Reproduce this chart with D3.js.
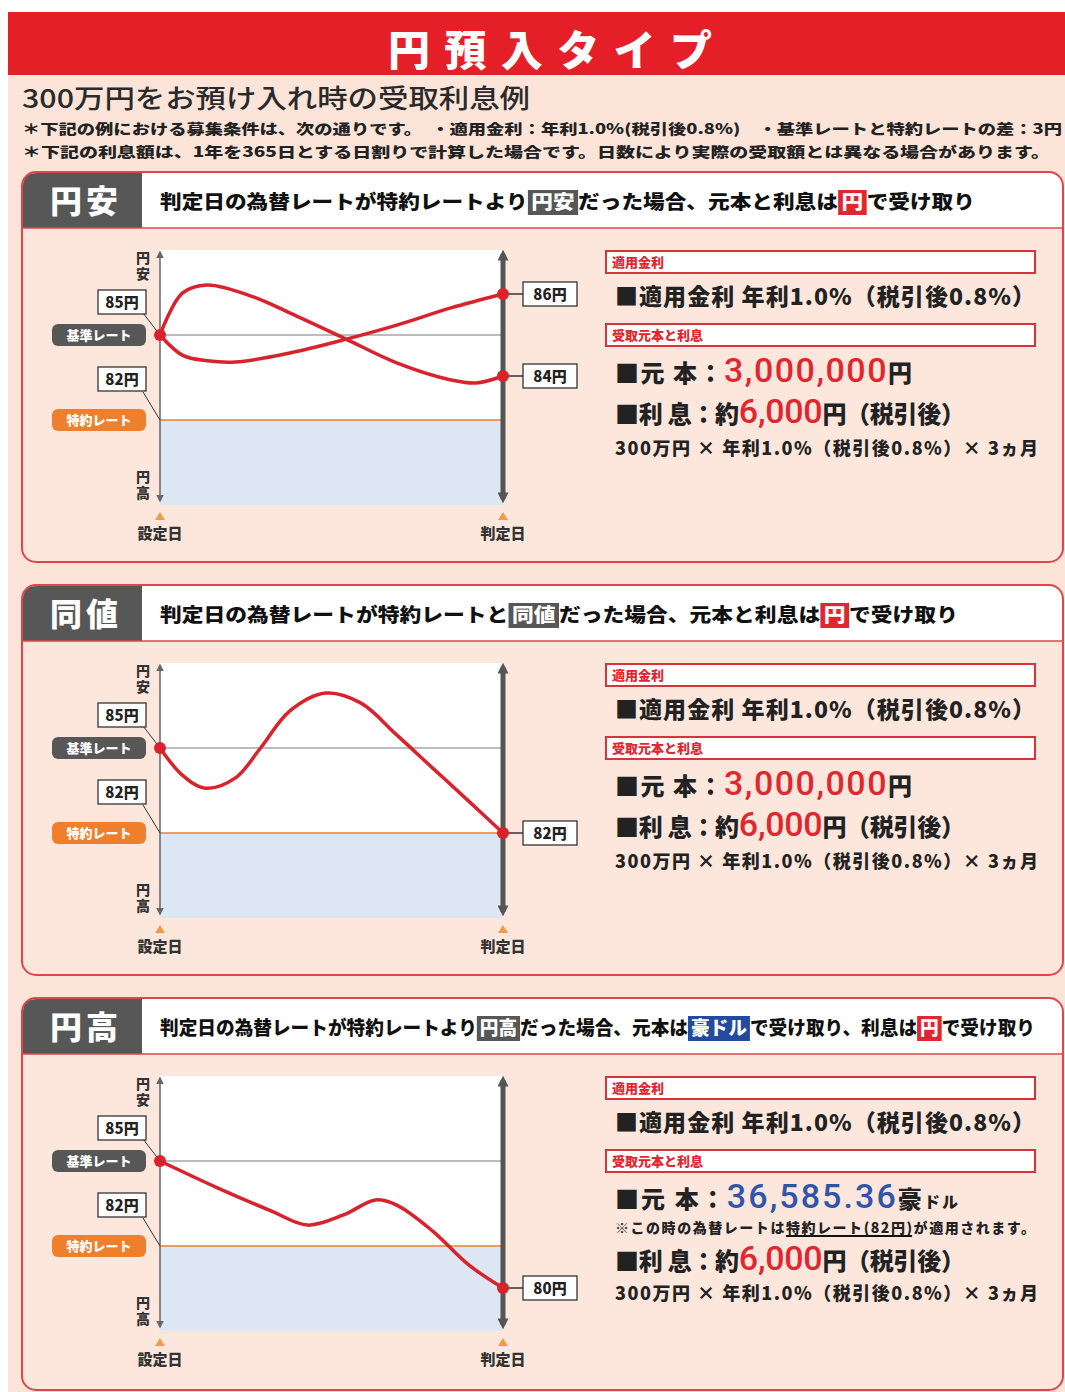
<!DOCTYPE html>
<html>
<head>
<meta charset="utf-8">
<script src="https://cdn.jsdelivr.net/npm/d3@7"></script>
<style>
  body { margin: 0; background: #fff; }
  svg { display: block; font-family: "Noto Sans CJK JP", "Noto Sans", sans-serif; }
</style>
</head>
<body>
<script>
// rates in yen, time as share of the period from 設定日 (0) to 判定日 (1)
const baseRate = 85
const strikeRate = 82

const weakTimes = [0, 0.065, 0.138, 0.22, 0.378, 0.535, 0.69, 0.848, 1]
const weakRates = [85, 84.51, 84.37, 84.34, 84.56, 84.88, 85.24, 85.66, 86]
const dipTimes = [0, 0.065, 0.138, 0.272, 0.378, 0.535, 0.69, 0.848, 0.921, 1]
const dipRates = [85, 86.02, 86.22, 85.93, 85.54, 84.93, 84.32, 83.82, 83.68, 84]
const flatTimes = [0, 0.065, 0.132, 0.22, 0.293, 0.378, 0.483, 0.585, 0.69, 0.795, 0.9, 1]
const flatRates = [85, 84.34, 84.02, 84.27, 85, 85.9, 86.34, 86.1, 85.32, 84.51, 83.45, 82]
const strongTimes = [0, 0.169, 0.325, 0.43, 0.535, 0.628, 0.69, 0.795, 0.9, 1]
const strongRates = [85, 84.34, 83.59, 82.95, 83.41, 84.05, 83.86, 82.68, 81.1, 80]

const panelTabs = ['円安', '同値', '円高']
const headlines = [
  [['判定日の為替レートが特約レートより', ''], ['円安', 'gray'], ['だった場合、元本と利息は', ''], ['円', 'red'], ['で受け取り', '']],
  [['判定日の為替レートが特約レートと', ''], ['同値', 'gray'], ['だった場合、元本と利息は', ''], ['円', 'red'], ['で受け取り', '']],
  [['判定日の為替レートが特約レートより', ''], ['円高', 'gray'], ['だった場合、元本は', ''], ['豪ドル', 'blue'], ['で受け取り、利息は', ''], ['円', 'red'], ['で受け取り', '']]
]
const principals = ['3,000,000', '3,000,000', '36,585.36']
const interest = '6,000'

const panelSeries = [
  [[weakTimes, weakRates], [dipTimes, dipRates]],
  [[flatTimes, flatRates]],
  [[strongTimes, strongRates]]
]

const width = 1065
const height = 1392
const panelTops = [172, 585, 998]
const headWidths = [815, 798, 875]
const hlColors = { gray: '#575757', red: '#e2262f', blue: '#234a9e' }
const red = '#d8222c'
const orange = '#ee7f2d'

const svg = d3.select('body').append('svg')
  .attr('width', width)
  .attr('height', height)

const defs = svg.append('defs')
defs.append('marker').attr('id', 'arrThin')
  .attr('viewBox', '0 0 10 10').attr('refX', 8).attr('refY', 5)
  .attr('markerWidth', 5).attr('markerHeight', 5)
  .attr('orient', 'auto-start-reverse')
  .append('path').attr('d', 'M0,0L10,5L0,10Z').attr('fill', '#666')
defs.append('marker').attr('id', 'arrThick')
  .attr('viewBox', '0 0 10 10').attr('refX', 6).attr('refY', 5)
  .attr('markerWidth', 2.2).attr('markerHeight', 2.2)
  .attr('orient', 'auto-start-reverse')
  .append('path').attr('d', 'M0,0L10,5L0,10Z').attr('fill', '#555')

// page background + title band
svg.append('rect').attr('x', 8).attr('y', 12).attr('width', width - 8).attr('height', height - 12).attr('fill', '#fce4d9')
svg.append('rect').attr('x', 8).attr('y', 12).attr('width', width - 8).attr('height', 63).attr('fill', '#e41f27')
svg.append('text').attr('x', 388).attr('y', 66)
  .attr('font-size', 42).attr('font-weight', 900).attr('fill', '#fff')
  .attr('textLength', 324).attr('lengthAdjust', 'spacing')
  .text('円預入タイプ')

svg.append('text').attr('x', 22).attr('y', 108)
  .attr('font-size', 26).attr('font-weight', 500).attr('fill', '#2a2a2a')
  .attr('textLength', 508).attr('lengthAdjust', 'spacingAndGlyphs')
  .text('300万円をお預け入れ時の受取利息例')
svg.append('text').attr('x', 22).attr('y', 134)
  .attr('font-size', 14).attr('font-weight', 900).attr('fill', '#222')
  .attr('textLength', 1040).attr('lengthAdjust', 'spacingAndGlyphs')
  .text('＊下記の例における募集条件は、次の通りです。　・適用金利：年利1.0%(税引後0.8%)　・基準レートと特約レートの差：3円')
svg.append('text').attr('x', 22).attr('y', 157)
  .attr('font-size', 14).attr('font-weight', 900).attr('fill', '#222')
  .attr('textLength', 1028).attr('lengthAdjust', 'spacingAndGlyphs')
  .text('＊下記の利息額は、1年を365日とする日割りで計算した場合です。日数により実際の受取額とは異なる場合があります。')

const x = d3.scaleLinear().domain([0, 1]).range([160, 503])

panelTops.forEach((top, i) => {
  const g = svg.append('g')
  const ph = i === 2 ? 392 : 390

  // frame + header
  g.append('rect').attr('x', 22).attr('y', top).attr('width', 1041).attr('height', ph)
    .attr('rx', 14).attr('fill', '#fde7dd')
  g.append('path')
    .attr('d', `M23,${top + 56}V${top + 14}Q23,${top + 1} 37,${top + 1}H1048Q1062,${top + 1} 1062,${top + 14}V${top + 56}Z`)
    .attr('fill', '#fff')
  g.append('path')
    .attr('d', `M23,${top + 56}V${top + 14}Q23,${top + 1} 37,${top + 1}H142V${top + 56}Z`)
    .attr('fill', '#575757')
  g.append('line').attr('x1', 22).attr('x2', 1063).attr('y1', top + 56).attr('y2', top + 56)
    .attr('stroke', '#e0454a').attr('stroke-width', 1.5)
  g.append('rect').attr('x', 22).attr('y', top).attr('width', 1041).attr('height', ph)
    .attr('rx', 14).attr('fill', 'none').attr('stroke', '#e0454a').attr('stroke-width', 2)
  g.append('text').attr('x', 50).attr('y', top + 41)
    .attr('font-size', 32).attr('font-weight', 900).attr('fill', '#fff')
    .attr('textLength', 68).attr('lengthAdjust', 'spacing')
    .text(panelTabs[i])

  const hg = g.append('g').attr('font-size', 19).attr('font-weight', 900)
  let cx = 0
  headlines[i].forEach(([t, hl]) => {
    const pad = hl ? 3 : 0
    const txt = hg.append('text').attr('x', cx + pad).attr('y', 0)
      .attr('fill', hl ? '#fff' : '#111').text(t)
    const w = txt.node().getComputedTextLength()
    if (hl) {
      hg.insert('rect', 'text').attr('x', cx).attr('y', -19).attr('width', w + 2 * pad).attr('height', 25)
        .attr('fill', hlColors[hl])
    }
    cx += w + 2 * pad
  })
  hg.attr('transform', `translate(160,${top + 37}) scale(${headWidths[i] / cx},1)`)

  // plot
  const plotTop = top + 78
  const plotBottom = plotTop + 255
  const y = d3.scaleLinear().domain([80, 82, 84, 85, 86])
    .range([212, 170, 126, 85, 44].map(d => plotTop + d))

  g.append('rect').attr('x', x(0)).attr('y', plotTop).attr('width', x(1) - x(0)).attr('height', 255).attr('fill', '#fff')
  g.append('rect').attr('x', x(0)).attr('y', y(strikeRate)).attr('width', x(1) - x(0))
    .attr('height', plotBottom - y(strikeRate)).attr('fill', '#dde7f3')
  g.append('line').attr('x1', x(0)).attr('x2', x(1)).attr('y1', y(baseRate)).attr('y2', y(baseRate))
    .attr('stroke', '#7a7a7a').attr('stroke-width', 1.2)
  g.append('line').attr('x1', x(0)).attr('x2', x(1)).attr('y1', y(strikeRate)).attr('y2', y(strikeRate))
    .attr('stroke', orange).attr('stroke-width', 1.5)

  g.append('line').attr('x1', x(0)).attr('x2', x(0)).attr('y1', plotTop + 2).attr('y2', plotBottom - 4)
    .attr('stroke', '#666').attr('stroke-width', 1.5)
    .attr('marker-start', 'url(#arrThin)').attr('marker-end', 'url(#arrThin)')
  g.append('line').attr('x1', x(1)).attr('x2', x(1)).attr('y1', plotTop + 4).attr('y2', plotBottom - 6)
    .attr('stroke', '#555').attr('stroke-width', 5)
    .attr('marker-start', 'url(#arrThick)').attr('marker-end', 'url(#arrThick)')

  // 円安 / 円高 written vertically
  ;[['円安', plotTop + 1], ['円高', plotTop + 220]].forEach(([label, yy]) => {
    g.append('text').attr('x', x(0) - 17).attr('y', yy)
      .attr('writing-mode', 'vertical-rl')
      .attr('font-size', 14).attr('font-weight', 900).attr('letter-spacing', 2)
      .attr('fill', '#333').text(label)
  })

  // left labels
  const pill = (yy, color, label) => {
    g.append('rect').attr('x', 52).attr('y', yy - 11).attr('width', 94).attr('height', 22)
      .attr('rx', 6).attr('fill', color)
    g.append('text').attr('x', 99).attr('y', yy + 5).attr('text-anchor', 'middle')
      .attr('font-size', 13).attr('font-weight', 900).attr('fill', '#fff').text(label)
  }
  const valBox = (bx, yy, label, w) => {
    g.append('rect').attr('x', bx).attr('y', yy - 12).attr('width', w).attr('height', 24)
      .attr('fill', '#fff').attr('stroke', '#333').attr('stroke-width', 1.3)
    g.append('text').attr('x', bx + w / 2).attr('y', yy + 6).attr('text-anchor', 'middle')
      .attr('font-size', 15).attr('font-weight', 900).attr('fill', '#222').text(label)
  }
  g.append('line').attr('x1', 143).attr('y1', y(baseRate) - 22).attr('x2', x(0)).attr('y2', y(baseRate))
    .attr('stroke', '#333').attr('stroke-width', 1)
  g.append('line').attr('x1', 143).attr('y1', y(strikeRate) - 28).attr('x2', x(0)).attr('y2', y(strikeRate))
    .attr('stroke', '#333').attr('stroke-width', 1)
  valBox(98, y(baseRate) - 33, `${baseRate}円`, 48)
  valBox(98, y(strikeRate) - 41, `${strikeRate}円`, 48)
  pill(y(baseRate), '#575757', '基準レート')
  pill(y(strikeRate), orange, '特約レート')

  // date marks
  ;[[0, '設定日'], [1, '判定日']].forEach(([t, label]) => {
    g.append('path')
      .attr('d', `M${x(t) - 5},${plotBottom + 15}L${x(t)},${plotBottom + 7}L${x(t) + 5},${plotBottom + 15}Z`)
      .attr('fill', '#f29a4a')
    g.append('text').attr('x', x(t)).attr('y', plotBottom + 34).attr('text-anchor', 'middle')
      .attr('font-size', 15).attr('font-weight', 900).attr('fill', '#333').text(label)
  })

  // rate paths
  const line = d3.line()
    .x(d => x(d[0]))
    .y(d => y(d[1]))
    .curve(d3.curveCatmullRom.alpha(0.5))
  panelSeries[i].forEach(([times, rates]) => {
    const pts = times.map((t, k) => [t, rates[k]])
    g.append('path').datum(pts).attr('d', line)
      .attr('fill', 'none').attr('stroke', red).attr('stroke-width', 3.5)
  })
  g.append('circle').attr('cx', x(0)).attr('cy', y(baseRate)).attr('r', 6).attr('fill', red)
  panelSeries[i].forEach(([times, rates]) => {
    const last = rates[rates.length - 1]
    g.append('line').attr('x1', x(1)).attr('x2', 523).attr('y1', y(last)).attr('y2', y(last))
      .attr('stroke', '#333').attr('stroke-width', 1.5)
    g.append('circle').attr('cx', x(1)).attr('cy', y(last)).attr('r', 6).attr('fill', red)
    valBox(523, y(last), `${last}円`, 54)
  })

  // right text block
  const tag = (yy, label) => {
    g.append('rect').attr('x', 606).attr('y', yy).attr('width', 429).attr('height', 22)
      .attr('fill', '#fff').attr('stroke', '#d8323a').attr('stroke-width', 2)
    g.append('text').attr('x', 612).attr('y', yy + 16)
      .attr('font-size', 13).attr('font-weight', 900).attr('fill', '#e2262f').text(label)
  }
  tag(top + 79, '適用金利')
  g.append('text').attr('x', 615).attr('y', top + 133)
    .attr('font-size', 23).attr('font-weight', 900).attr('fill', '#222')
    .attr('textLength', 420).attr('lengthAdjust', 'spacing')
    .text('■適用金利 年利1.0%（税引後0.8%）')
  tag(top + 152, '受取元本と利息')

  const isAud = i === 2
  const pText = g.append('text').attr('x', 615).attr('y', top + 210)
    .attr('font-size', 24).attr('font-weight', 900).attr('fill', '#222')
    .attr('textLength', isAud ? 343 : 297).attr('lengthAdjust', 'spacing')
  pText.append('tspan').text('■元 本：')
  pText.append('tspan').attr('font-size', 34).attr('font-weight', 500)
    .attr('font-family', 'Roboto, "Noto Sans", sans-serif')
    .attr('fill', isAud ? '#2f55a8' : '#e2262f').text(principals[i])
  if (isAud) {
    pText.append('tspan').text('豪')
    pText.append('tspan').attr('font-size', 16).text('ドル')
    const note = g.append('text').attr('x', 615).attr('y', top + 235)
      .attr('font-size', 14).attr('font-weight', 900).attr('fill', '#222')
      .attr('textLength', 420).attr('lengthAdjust', 'spacing')
      .text('※この時の為替レートは特約レート(82円)が適用されます。')
    const nn = note.node()
    const s = nn.getStartPositionOfChar(11).x
    const e = nn.getEndPositionOfChar(20).x
    g.append('line').attr('x1', s).attr('x2', e).attr('y1', top + 238).attr('y2', top + 238)
      .attr('stroke', '#111').attr('stroke-width', 2)
  } else {
    pText.append('tspan').text('円')
  }
  const iy = isAud ? top + 272 : top + 251
  const iText = g.append('text').attr('x', 615).attr('y', iy)
    .attr('font-size', 24).attr('font-weight', 900).attr('fill', '#222')
    .attr('textLength', 350).attr('lengthAdjust', 'spacing')
  iText.append('tspan').text('■利 息：約')
  iText.append('tspan').attr('font-size', 34).attr('font-weight', 500)
    .attr('font-family', 'Roboto, "Noto Sans", sans-serif')
    .attr('fill', '#e2262f').text(interest)
  iText.append('tspan').text('円（税引後）')

  g.append('text').attr('x', 615).attr('y', isAud ? top + 302 : top + 283)
    .attr('font-size', 18).attr('font-weight', 900).attr('fill', '#222')
    .attr('textLength', 423).attr('lengthAdjust', 'spacing')
    .text('300万円 × 年利1.0%（税引後0.8%）× 3ヵ月')
})
</script>
</body>
</html>
